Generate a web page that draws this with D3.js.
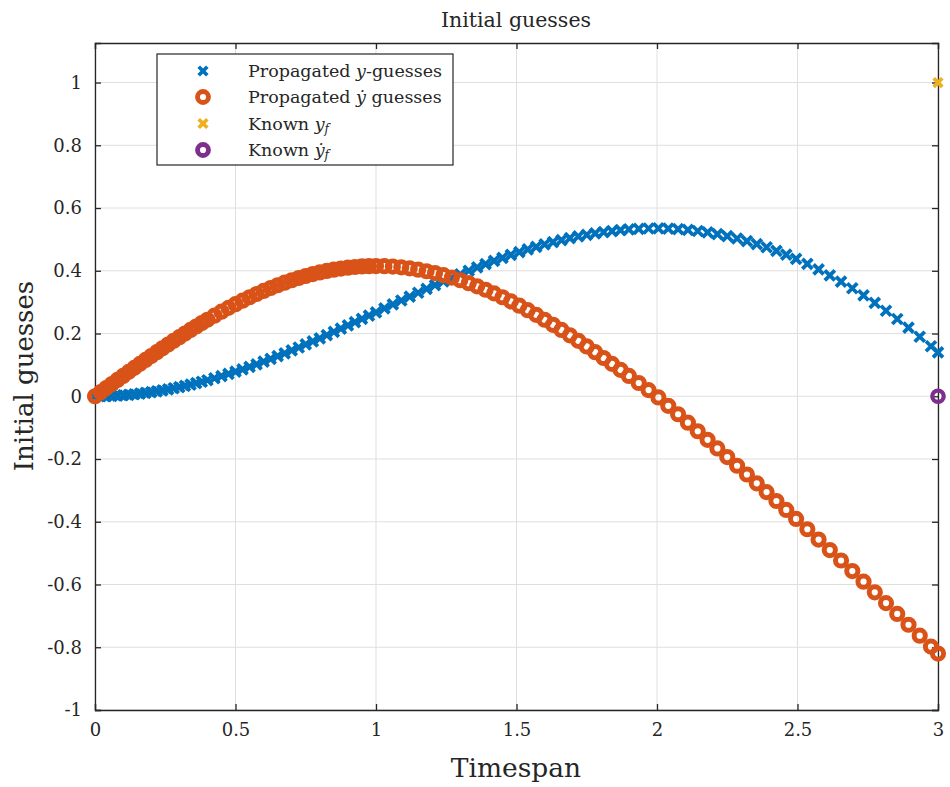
<!DOCTYPE html>
<html>
<head>
<meta charset="utf-8">
<script src="https://cdn.jsdelivr.net/npm/d3@7"></script>
<style>
  body { margin: 0; background: #fff; }
  svg text { font-family: "DejaVu Serif", serif; fill: #262626; }
</style>
</head>
<body>
<div id="plot"></div>
<script>
// time steps of the propagated solution
var tSpan = [
  0, 0.02, 0.04, 0.06, 0.08, 0.10, 0.12, 0.14, 0.16, 0.18, 0.20, 0.22, 0.24, 0.26, 0.28, 0.30,
  0.32, 0.34, 0.36, 0.38, 0.40,
  0.425, 0.45, 0.475, 0.5, 0.525, 0.55, 0.575, 0.6, 0.625, 0.65, 0.675, 0.7, 0.725, 0.75,
  0.775, 0.8, 0.825, 0.85, 0.875, 0.9, 0.925, 0.95, 0.975, 1.0,
  1.03, 1.06, 1.09, 1.12, 1.15, 1.18, 1.21, 1.24, 1.27, 1.30, 1.33, 1.36, 1.39, 1.42, 1.45,
  1.48, 1.51, 1.54, 1.57, 1.60, 1.63, 1.66, 1.69, 1.72, 1.75, 1.78, 1.81, 1.84, 1.87, 1.90,
  1.935, 1.97, 2.005, 2.04, 2.075, 2.11, 2.145, 2.18, 2.215, 2.25, 2.285, 2.32, 2.355, 2.39,
  2.425, 2.46, 2.495,
  2.535, 2.575, 2.615, 2.655, 2.695, 2.735, 2.775, 2.815, 2.855, 2.895, 2.935, 2.975, 3.0
];

// propagated y guesses
var yGuess = [
  0, 0.0001, 0.0005, 0.0012, 0.0021, 0.0033, 0.0047, 0.0064, 0.0084, 0.0106, 0.0131, 0.0158,
  0.0188, 0.0220, 0.0255, 0.0292, 0.0331, 0.0373, 0.0416, 0.0463, 0.0511,
  0.0574, 0.0641, 0.0711, 0.0784, 0.0859, 0.0938, 0.1019, 0.1103, 0.1189, 0.1277, 0.1368,
  0.1461, 0.1555, 0.1651, 0.1749, 0.1848, 0.1949, 0.2051, 0.2153, 0.2257, 0.2361, 0.2465,
  0.2570, 0.2675,
  0.2801, 0.2927, 0.3052, 0.3176, 0.3300, 0.3421, 0.3542, 0.3660, 0.3776, 0.3889, 0.4000,
  0.4108, 0.4213, 0.4315, 0.4412, 0.4506, 0.4596, 0.4682, 0.4763, 0.4839, 0.4911, 0.4978,
  0.5039, 0.5095, 0.5146, 0.5192, 0.5232, 0.5266, 0.5294, 0.5317,
  0.5336, 0.5347, 0.5350, 0.5344, 0.5328, 0.5302, 0.5267, 0.5222, 0.5167, 0.5103, 0.5029,
  0.4946, 0.4852, 0.4749, 0.4637, 0.4514, 0.4382,
  0.4219, 0.4044, 0.3856, 0.3655, 0.3442, 0.3216, 0.2978, 0.2726, 0.2463, 0.2186, 0.1897,
  0.1595, 0.1400
];

// propagated y-dot guesses
var ydGuess = [
  0, 0.0130, 0.0261, 0.0391, 0.0520, 0.0649, 0.0778, 0.0905, 0.1032, 0.1158, 0.1282, 0.1406,
  0.1528, 0.1648, 0.1767, 0.1884, 0.1999, 0.2113, 0.2224, 0.2333, 0.2439,
  0.2569, 0.2695, 0.2817, 0.2935, 0.3047, 0.3156, 0.3259, 0.3357, 0.3451, 0.3539, 0.3621,
  0.3698, 0.3769, 0.3834, 0.3894, 0.3947, 0.3994, 0.4035, 0.4070, 0.4099, 0.4121, 0.4137,
  0.4147, 0.4150,
  0.4145, 0.4132, 0.4109, 0.4077, 0.4035, 0.3985, 0.3926, 0.3859, 0.3782, 0.3698, 0.3605,
  0.3504, 0.3395, 0.3279, 0.3156, 0.3025, 0.2888, 0.2744, 0.2595, 0.2439, 0.2278, 0.2113,
  0.1942, 0.1767, 0.1588, 0.1406, 0.1220, 0.1032, 0.0842, 0.0649,
  0.0423, 0.0196, -0.0038, -0.0305, -0.0573, -0.0843, -0.1115, -0.1387, -0.1662, -0.1938,
  -0.2215, -0.2493, -0.2774, -0.3055, -0.3338, -0.3623, -0.3909,
  -0.4238, -0.4568, -0.4901, -0.5235, -0.5572, -0.5910, -0.6250, -0.6593, -0.6937, -0.7283,
  -0.7631, -0.7980, -0.8200
];

// known final values
var knownT  = [3];
var knownY  = [1];
var knownYd = [0];

var xTicks = [0, 0.5, 1, 1.5, 2, 2.5, 3];
var yTicks = [-1, -0.8, -0.6, -0.4, -0.2, 0, 0.2, 0.4, 0.6, 0.8, 1];

var blue = "#0072BD", red = "#D95319", yellow = "#EDB120", purple = "#7E2F8E";

var W = 950, H = 787;
// plot box in pixels (not "top"/"left": those clash with window globals)
var boxL = 95, boxR = 938, boxT = 43, boxB = 710;

var svg = d3.select("#plot").append("svg")
    .attr("width", W)
    .attr("height", H);

var x = d3.scaleLinear().domain([0, 3]).range([boxL, boxR]);
var y = d3.scaleLinear().domain([-1, 1.126]).range([boxB, boxT]);

// grid
svg.append("g").selectAll("line").data(xTicks).enter().append("line")
    .attr("x1", d => x(d)).attr("x2", d => x(d))
    .attr("y1", boxT).attr("y2", boxB)
    .attr("stroke", "#dfdfdf").attr("stroke-width", 1);
svg.append("g").selectAll("line").data(yTicks).enter().append("line")
    .attr("x1", boxL).attr("x2", boxR)
    .attr("y1", d => y(d)).attr("y2", d => y(d))
    .attr("stroke", "#dfdfdf").attr("stroke-width", 1);

// axes, ticks pointing inward like matlab
var fmt = d => String(d);
var xAxis = d3.axisBottom(x).tickValues(xTicks).tickSize(-6).tickPadding(13).tickFormat(fmt);
var yAxis = d3.axisLeft(y).tickValues(yTicks).tickSize(-6).tickPadding(13).tickFormat(fmt);

svg.append("g").attr("transform", "translate(0," + boxB + ")").call(xAxis);
svg.append("g").attr("transform", "translate(" + boxL + ",0)").call(yAxis);
svg.append("g").attr("transform", "translate(0," + boxT + ")")
    .call(d3.axisTop(x).tickValues(xTicks).tickSize(-6).tickFormat(""));
svg.append("g").attr("transform", "translate(" + boxR + ",0)")
    .call(d3.axisRight(y).tickValues(yTicks).tickSize(-6).tickFormat(""));

svg.selectAll(".domain").attr("stroke", "#262626").attr("stroke-width", 1.3);
svg.selectAll(".tick line").attr("stroke", "#262626").attr("stroke-width", 1.3);
svg.selectAll(".tick text").style("font-size", "18px").attr("fill", "#262626");

// markers
var crossPath = function (s) {
  return "M" + (-s) + "," + (-s) + "L" + s + "," + s + "M" + (-s) + "," + s + "L" + s + "," + (-s);
};

svg.append("g").selectAll("path").data(tSpan).enter().append("path")
    .attr("transform", (d, i) => "translate(" + x(d) + "," + y(yGuess[i]) + ")")
    .attr("d", crossPath(5.0))
    .attr("stroke", blue).attr("stroke-width", 3.8).attr("fill", "none");

svg.append("g").selectAll("circle").data(tSpan).enter().append("circle")
    .attr("cx", d => x(d))
    .attr("cy", (d, i) => y(ydGuess[i]))
    .attr("r", 5.6)
    .attr("stroke", red).attr("stroke-width", 5.0).attr("fill", "none");

svg.append("g").selectAll("path").data(knownT).enter().append("path")
    .attr("transform", (d, i) => "translate(" + x(d) + "," + y(knownY[i]) + ")")
    .attr("d", crossPath(4.3))
    .attr("stroke", yellow).attr("stroke-width", 3.7).attr("fill", "none");

svg.append("g").selectAll("circle").data(knownT).enter().append("circle")
    .attr("cx", d => x(d))
    .attr("cy", (d, i) => y(knownYd[i]))
    .attr("r", 5.7)
    .attr("stroke", purple).attr("stroke-width", 4.3).attr("fill", "none");

// legend
var lg = svg.append("g");
lg.append("rect")
    .attr("x", 157).attr("y", 54).attr("width", 296).attr("height", 111)
    .attr("fill", "#fff").attr("stroke", "#262626").attr("stroke-width", 1.2);

var legendRows = [
  {kind: "x", color: blue,   parts: [["Propagated ", ""], ["y", "i"], ["-guesses", ""]]},
  {kind: "o", color: red,    parts: [["Propagated ", ""], ["\u1E8F", "i"], [" guesses", ""]]},
  {kind: "x", color: yellow, parts: [["Known ", ""], ["y", "i"], ["f", "s"]]},
  {kind: "o", color: purple, parts: [["Known ", ""], ["\u1E8F", "i"], ["f", "s"]]}
];
var rowY = [71, 97, 123.5, 150];

legendRows.forEach(function (r, i) {
  var cy = rowY[i];
  if (r.kind == "x") {
    lg.append("path").attr("transform", "translate(203," + cy + ")")
      .attr("d", crossPath(4.3))
      .attr("stroke", r.color).attr("stroke-width", 3.7).attr("fill", "none");
  } else {
    lg.append("circle").attr("cx", 203).attr("cy", cy).attr("r", 5.5)
      .attr("stroke", r.color).attr("stroke-width", 4.8).attr("fill", "none");
  }
  var t = lg.append("text").attr("x", 248).attr("y", cy + 6).style("font-size", "17.5px");
  r.parts.forEach(function (p) {
    var ts = t.append("tspan").text(p[0]);
    if (p[1] == "i") ts.style("font-style", "italic");
    if (p[1] == "s") ts.style("font-style", "italic").style("font-size", "12px").attr("dy", 3);
  });
});

// title and labels
svg.append("text").attr("x", 516).attr("y", 27).attr("text-anchor", "middle")
    .style("font-size", "20.5px").attr("fill", "#111").text("Initial guesses");
svg.append("text").attr("x", 516).attr("y", 777).attr("text-anchor", "middle")
    .style("font-size", "26.5px").text("Timespan");
svg.append("text").attr("transform", "translate(33,376) rotate(-90)").attr("text-anchor", "middle")
    .style("font-size", "26px").text("Initial guesses");
</script>
</body>
</html>
